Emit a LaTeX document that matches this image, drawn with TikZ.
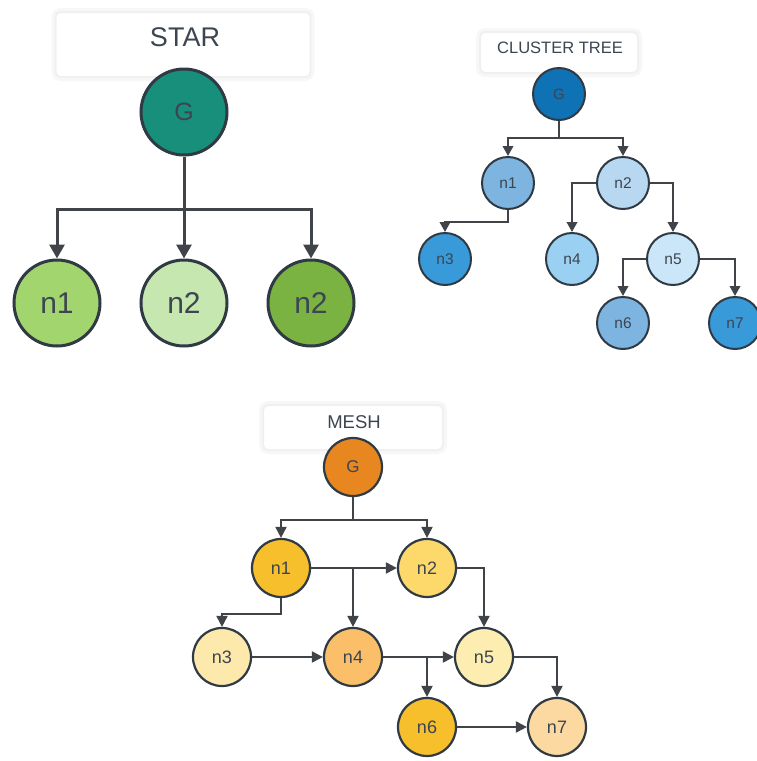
\documentclass[tikz,border=0pt]{standalone}
\usepackage{fontspec}
\setmainfont{Liberation Sans}
\usetikzlibrary{arrows.meta}
\definecolor{bd}{HTML}{2F3A44}
\definecolor{tx}{HTML}{3C4550}
\definecolor{ln}{HTML}{404448}
% star colours
\definecolor{sG}{HTML}{178F7A}
\definecolor{s1}{HTML}{A3D56F}
\definecolor{s2}{HTML}{C6E7B0}
\definecolor{s3}{HTML}{7BB342}
% cluster colours
\definecolor{cG}{HTML}{0E72B5}
\definecolor{c1}{HTML}{7DB4E0}
\definecolor{c2}{HTML}{B8D8F2}
\definecolor{c3}{HTML}{389AD8}
\definecolor{c4}{HTML}{9AD0F2}
\definecolor{c5}{HTML}{CBE6F8}
% mesh colours
\definecolor{mG}{HTML}{E8871F}
\definecolor{m1}{HTML}{F7BF2B}
\definecolor{m2}{HTML}{FDD96B}
\definecolor{m3}{HTML}{FDE9AB}
\definecolor{m4}{HTML}{FBBF6A}
\definecolor{m5}{HTML}{FDEDB1}
\definecolor{m7}{HTML}{FDD9A2}
\tikzset{
  nd/.style={circle, draw=bd, text=tx, inner sep=0pt},
  starnode/.style={nd, minimum size=86pt, line width=3pt, font=\fontsize{30}{30}\selectfont},
  clnode/.style={nd, minimum size=52pt, line width=2pt, font=\fontsize{15.5}{15.5}\selectfont},
  msnode/.style={nd, minimum size=58pt, line width=2.2pt, font=\fontsize{18}{18}\selectfont},
  titlebox/.style={rounded corners=5pt, draw=black!6, line width=2pt, fill=white,
     preaction={draw=black!3, line width=8pt}, inner sep=0pt},
  titletext/.style={text=tx, inner sep=0pt},
  sarr/.style={draw=ln, line width=3pt, -{Triangle[length=14pt,width=15pt]}},
  carr/.style={draw=ln, line width=2pt, -{Triangle[length=10pt,width=10.5pt]}},
  marr/.style={draw=ln, line width=2pt, -{Triangle[length=11pt,width=11pt]}},
}
\begin{document}
\begin{tikzpicture}[x=1pt,y=-1pt]
\fill[white] (0,0) rectangle (757,761);
\useasboundingbox (0,0) rectangle (757,761);

% ---------------- STAR ----------------
\node[titlebox, minimum width=255pt, minimum height=65pt] (starbox) at (183,44.5) {};
\node[titletext, font=\fontsize{27}{27}\selectfont] (startitle) at (185,37) {STAR};
\node[starnode, fill=sG, font=\fontsize{25}{25}\selectfont] (sG) at (184,112) {G};
\node[starnode, fill=s1] (sn1) at (57,303) {n1};
\node[starnode, fill=s2] (sn2) at (184,303) {n2};
\node[starnode, fill=s3] (sn3) at (311,303) {n2};
\draw[sarr] (sG.south) -- ++(0,53) -| (sn1.north);
\draw[sarr] (sG.south) -- (sn2.north);
\draw[sarr] (sG.south) -- ++(0,53) -| (sn3.north);

% ---------------- CLUSTER TREE ----------------
\node[titlebox, minimum width=158pt, minimum height=41pt] (clbox) at (559,52.5) {};
\node[titletext, font=\fontsize{16.5}{16.5}\selectfont] (cltitle) at (560,48) {CLUSTER TREE};
\node[clnode, fill=cG, font=\fontsize{15}{15}\selectfont] (cG) at (559,94) {G};
\node[clnode, fill=c1] (cn1) at (508,183) {n1};
\node[clnode, fill=c2] (cn2) at (623,183) {n2};
\node[clnode, fill=c3] (cn3) at (445,259) {n3};
\node[clnode, fill=c4] (cn4) at (572,259) {n4};
\node[clnode, fill=c5] (cn5) at (673,259) {n5};
\node[clnode, fill=c1] (cn6) at (623,323) {n6};
\node[clnode, fill=c3] (cn7) at (735,323) {n7};
\draw[carr] (cG.south) -- ++(0,17) -| (cn1.north);
\draw[carr] (cG.south) -- ++(0,17) -| (cn2.north);
\draw[carr] (cn1.south) -- ++(0,12) -| (cn3.north);
\draw[carr] (cn2.west) -| (cn4.north);
\draw[carr] (cn2.east) -| (cn5.north);
\draw[carr] (cn5.west) -| (cn6.north);
\draw[carr] (cn5.east) -| (cn7.north);

% ---------------- MESH ----------------
\node[titlebox, minimum width=180pt, minimum height=45pt] (msbox) at (353,427.5) {};
\node[titletext, font=\fontsize{18.5}{18.5}\selectfont] (mstitle) at (354,422) {MESH};
\node[msnode, fill=mG, font=\fontsize{17}{17}\selectfont] (mG) at (353,467) {G};
\node[msnode, fill=m1] (mn1) at (281,568) {n1};
\node[msnode, fill=m2] (mn2) at (427,568) {n2};
\node[msnode, fill=m3] (mn3) at (222,657) {n3};
\node[msnode, fill=m4] (mn4) at (353,657) {n4};
\node[msnode, fill=m5] (mn5) at (484,657) {n5};
\node[msnode, fill=m1] (mn6) at (427,727) {n6};
\node[msnode, fill=m7] (mn7) at (557,727) {n7};
\draw[marr] (mG.south) -- ++(0,23) -| (mn1.north);
\draw[marr] (mG.south) -- ++(0,23) -| (mn2.north);
\draw[marr] (mn1) -- (mn2);
\draw[marr] (mn1.east -| mn4.north) -- (mn4.north);
\draw[marr] (mn1.south) -- ++(0,16) -| (mn3.north);
\draw[marr] (mn2.east) -| (mn5.north);
\draw[marr] (mn3) -- (mn4);
\draw[marr] (mn4) -- (mn5);
\draw[marr] (mn4.east -| mn6.north) -- (mn6.north);
\draw[marr] (mn5.east) -| (mn7.north);
\draw[marr] (mn6) -- (mn7);
\end{tikzpicture}
\end{document}
